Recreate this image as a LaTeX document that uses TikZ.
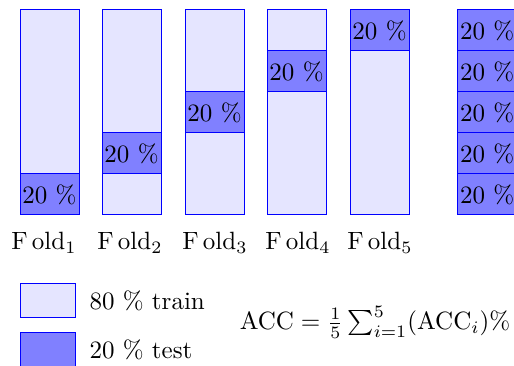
\documentclass[tikz,border=0pt]{standalone}
\usepackage{amsmath}
\begin{document}
\begin{tikzpicture}[x=0.40pt,y=-0.40pt,
  seg/.style={draw=blue,line width=0.4pt,minimum width=59*0.40pt,minimum height=41*0.40pt,inner sep=0pt,outer sep=0pt},
  colbox/.style={draw=blue,line width=0.4pt,fill=blue!10,minimum width=59*0.40pt,minimum height=205*0.40pt,inner sep=0pt,outer sep=0pt},
  testseg/.style={seg,fill=blue!50},
  lbl/.style={inner sep=0pt}]
\useasboundingbox (0,0) rectangle (514,366);
% columns: left x = 20,102,185,267,350 ; test index
\foreach \c/\xl/\t in {1/20/4,2/102/3,3/185/2,4/267/1,5/350/0}{
  \node[colbox] (col\c) at (\xl+29.5,112.5) {};
  \node[testseg] (f\c t) at (\xl+29.5,30.5+41*\t) {20~\%};
}
\foreach \k in {0,...,4}{
  \node[testseg,text width=59*0.40pt,align=left,inner xsep=1pt] (all\k) at (489.5,30.5+41*\k) {20~\%};
}
\node[lbl] (l1) at (44,243) {F\,old$_1$};
\node[lbl] (l2) at (130,243) {F\,old$_2$};
\node[lbl] (l3) at (215,243) {F\,old$_3$};
\node[lbl] (l4) at (298,243) {F\,old$_4$};
\node[lbl] (l5) at (380,243) {F\,old$_5$};
% legend
\node[draw=blue,line width=0.4pt,fill=blue!10,minimum width=55*0.40pt,minimum height=34*0.40pt,inner sep=0pt] (lg1) at (47.5,301) {};
\node[draw=blue,line width=0.4pt,fill=blue!50,minimum width=55*0.40pt,minimum height=34*0.40pt,inner sep=0pt] (lg2) at (47.5,350) {};
\node[lbl,anchor=west] (t1) at (89,301) {80~\% train};
\node[lbl,anchor=west] (t2) at (89,350) {20~\% test};
\node[lbl] (acc) at (375,322) {$\mathrm{ACC}=\frac{1}{5}\sum_{i=1}^{5}(\mathrm{ACC}_i)\%$};
\end{tikzpicture}
\end{document}
